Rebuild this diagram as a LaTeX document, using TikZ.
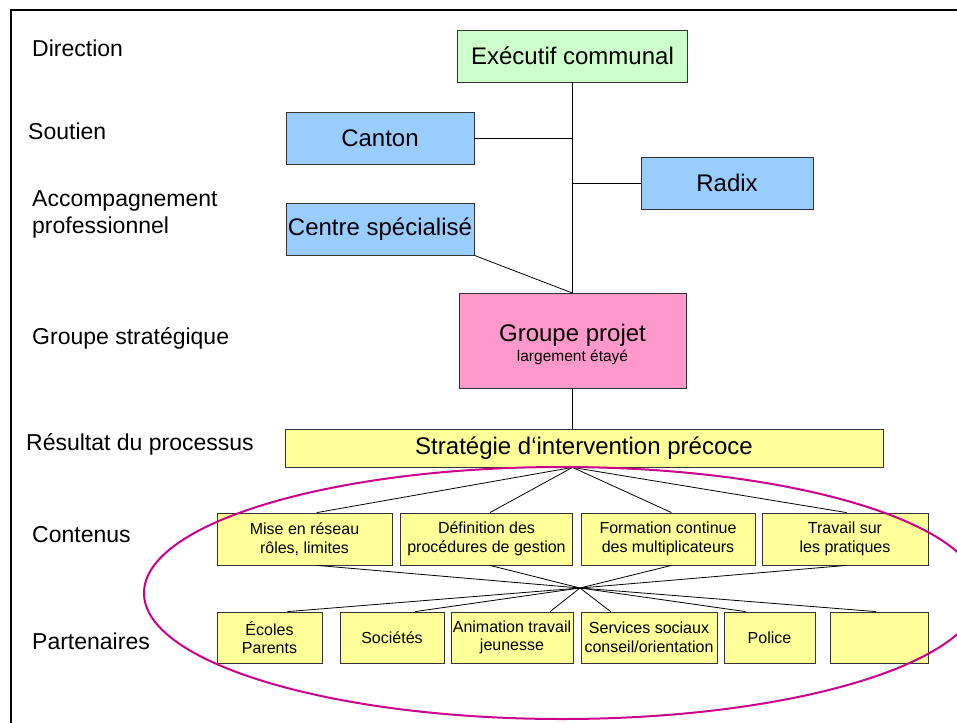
\documentclass[tikz,border=0pt]{standalone}
\usepackage{fontspec}
\setmainfont{Liberation Sans}
\usetikzlibrary{calc}
\definecolor{exgreen}{RGB}{204,255,204}
\definecolor{supblue}{RGB}{153,204,255}
\definecolor{gppink}{RGB}{255,153,204}
\definecolor{resyellow}{RGB}{255,255,153}
\definecolor{ellmag}{RGB}{204,0,140}
\begin{document}
\begin{tikzpicture}[x=1pt,y=-1pt,
  box/.style={draw=black!80, line width=0.8pt, inner sep=0pt, align=center,
    font=\fontsize{24}{28}\selectfont},
  smallbox/.style={draw=black!80, line width=0.8pt, inner sep=0pt, align=center,
    fill=resyellow, minimum height=51, font=\fontsize{16}{18.5}\selectfont},
  rowlabel/.style={anchor=base west, inner sep=0pt, align=left,
    font=\fontsize{23}{27}\selectfont},
  conn/.style={draw=black, line width=0.8pt},
  ell/.style={draw=ellmag, line width=2pt}
]
\useasboundingbox (0,0) rectangle (957,722);
\begin{scope}
  \clip (0,0) rectangle (957,722);
  \draw[line width=2.8pt] (11,10) rectangle (1000,760);
\end{scope}

% row labels
\node[rowlabel] (lDir) at (32,57) {Direction};
\node[rowlabel] (lSou) at (28,140) {Soutien};
\node[rowlabel] (lAcc) at (32,233) {Accompagnement\\professionnel};
\node[rowlabel] (lGro) at (32,344) {Groupe stratégique};
\node[rowlabel] (lRes) at (26,450) {Résultat du processus};
\node[rowlabel] (lCon) at (32,542) {Contenus};
\node[rowlabel] (lPar) at (32,649) {Partenaires};

% top boxes
\node[box, fill=exgreen, minimum width=230, minimum height=52] (ex) at (572.5,56) {Exécutif communal};
\node[box, fill=supblue, minimum width=188, minimum height=52] (canton) at (380,138) {Canton};
\node[box, fill=supblue, minimum width=172, minimum height=52] (radix) at (727,183) {Radix};
\node[box, fill=supblue, minimum width=188, minimum height=52] (centre) at (380,229) {Centre spécialisé};
\node[box, fill=gppink, minimum width=227, minimum height=95] (gp) at (572.5,341) {};
\node[inner sep=0pt, align=center, font=\fontsize{24}{28}\selectfont] (gptext) at ($(gp.center)+(0,3.5)$)
  {Groupe projet\\[-8pt]{\fontsize{15.5}{18}\selectfont largement étayé}};
\node[box, fill=resyellow, minimum width=598, minimum height=38] (strat) at (584,448)
  {\raisebox{-1.5pt}{Stratégie d‘intervention précoce}};

% contenus
\node[smallbox, minimum width=175, minimum height=52] (c1) at (304.5,539) {Mise en réseau\\rôles, limites};
\node[smallbox, minimum width=172, minimum height=52] (c2) at (486.5,539) {Définition des\\procédures de gestion};
\node[smallbox, minimum width=174, minimum height=52] (c3) at (668,539) {Formation continue\\des multiplicateurs};
\node[smallbox, minimum width=166, minimum height=52] (c4) at (845,539) {Travail sur\\les pratiques};

% partenaires
\node[smallbox, minimum width=105] (p1) at (269.5,637.5) {Écoles\\Parents};
\node[smallbox, minimum width=104] (p2) at (392,637.5) {Sociétés};
\node[smallbox, minimum width=122] (p3) at (512,637.5) {Animation travail\\jeunesse};
\node[smallbox, minimum width=136] (p4) at (649,637.5) {Services sociaux\\conseil/orientation};
\node[smallbox, minimum width=91] (p5) at (769.5,637.5) {Police};
\node[smallbox, minimum width=98] (p6) at (879,637.5) {};

% connectors top
\draw[conn] (ex.south) -- (gp.north);
\draw[conn] (canton.east) -- (canton.east -| ex.south);
\draw[conn] (radix.west) -- (radix.west -| ex.south);
\draw[conn] (centre.south east) -- (gp.north);
\draw[conn] (gp.south) -- (gp.south |- strat.north);

\coordinate (shub) at (gp.south |- strat.south);
\coordinate (hub) at (580,588);

\draw[conn] (shub) -- ($(c1.north west)!0.57!(c1.north east)$);
\draw[conn] (shub) -- ($(c2.north west)!0.52!(c2.north east)$);
\draw[conn] (shub) -- ($(c3.north west)!0.52!(c3.north east)$);
\draw[conn] (shub) -- ($(c4.north west)!0.51!(c4.north east)$);

\draw[conn] (hub) -- ($(c1.south west)!0.57!(c1.south east)$);
\draw[conn] (hub) -- ($(c2.south west)!0.52!(c2.south east)$);
\draw[conn] (hub) -- ($(c3.south west)!0.52!(c3.south east)$);
\draw[conn] (hub) -- ($(c4.south west)!0.51!(c4.south east)$);

\draw[conn] (hub) -- ($(p1.north west)!0.67!(p1.north east)$);
\draw[conn] (hub) -- ($(p2.north west)!0.72!(p2.north east)$);
\draw[conn] (hub) -- ($(p3.north west)!0.81!(p3.north east)$);
\draw[conn] (hub) -- ($(p4.north west)!0.22!(p4.north east)$);
\draw[conn] (hub) -- ($(p5.north west)!0.24!(p5.north east)$);
\draw[conn] (hub) -- ($(p6.north west)!0.47!(p6.north east)$);

% ellipse
\draw[ell] (562,593) ellipse [x radius=418, y radius=126];
\end{tikzpicture}
\end{document}
